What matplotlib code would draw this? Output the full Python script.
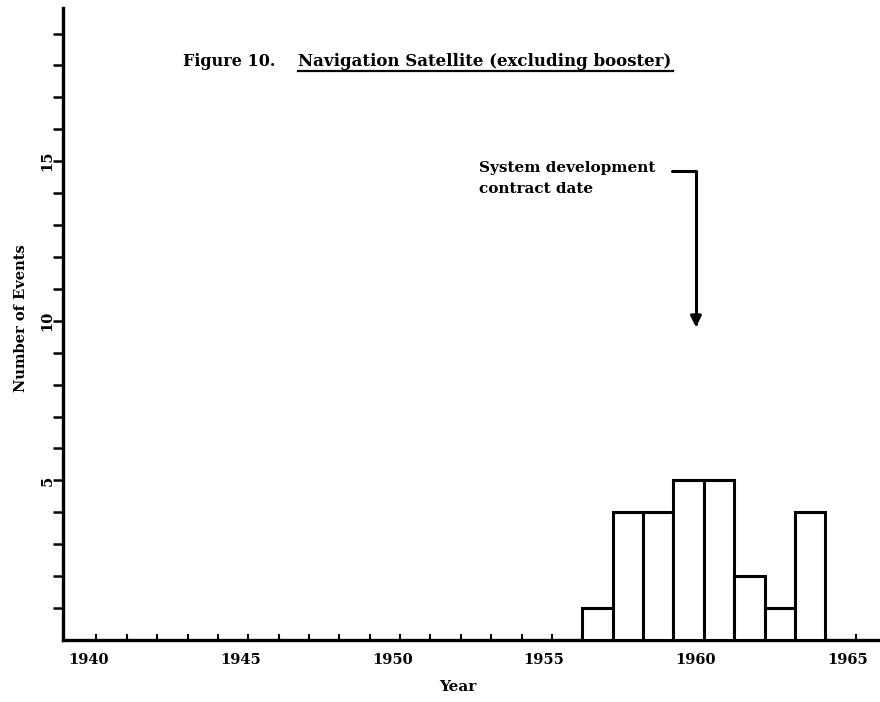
import matplotlib
matplotlib.use("Agg")
import matplotlib.pyplot as plt
import matplotlib.transforms as mtransforms
from matplotlib.lines import Line2D
import numpy as np

plt.rcParams.update({"font.family": "DejaVu Serif", "font.weight": "bold"})

# histogram of events per year (bar left edge = year)
YEARS = [1956, 1957, 1958, 1959, 1960, 1961, 1962, 1963]
EVENTS = [1, 4, 4, 5, 5, 2, 1, 4]
XTICK_YEARS = [1940, 1945, 1950, 1955, 1960, 1965]
YTICKS = [5, 10, 15]

fig = plt.figure(figsize=(8.8, 7.02), dpi=100)
ax = fig.add_axes([63 / 880, 1 - 640 / 702, 1 - 63 / 880, (640 - 8) / 702])

ax.bar(YEARS, EVENTS, width=1.0, align="edge", facecolor="white",
       edgecolor="black", linewidth=2.2, zorder=3)

ax.set_xlim(1938.9, 1965.8)
ax.set_ylim(0, 19.8)

ax.set_xticks(XTICK_YEARS)
ax.set_xticks(np.arange(1940, 1966), minor=True)
ax.set_yticks(YTICKS)
ax.set_yticks(np.arange(1, 20), minor=True)
ax.tick_params(axis="x", which="both", direction="in", length=4, width=1.5, labelsize=10.5, pad=9)
ax.tick_params(axis="y", which="both", direction="out", length=7, width=1.8, labelsize=10.5, pad=-1)
for lab in ax.get_yticklabels():
    lab.set_rotation(90)
    lab.set_va("center")
shift = mtransforms.ScaledTranslation(-8 / 100, 0, fig.dpi_scale_trans)
for lab in ax.get_xticklabels():
    lab.set_transform(lab.get_transform() + shift)

for s in ("top", "right"):
    ax.spines[s].set_visible(False)
for s in ("left", "bottom"):
    ax.spines[s].set_linewidth(2.4)

ax.set_xlabel("Year", fontsize=11, fontweight="bold")
ax.xaxis.set_label_coords((458 - 63) / 817, -(680 - 640) / 632)
ax.set_ylabel("Number of Events", fontsize=10.5, fontweight="bold")
ax.yaxis.set_label_coords(-(63 - 28) / 817, (640 - 318) / 632)

# annotation: contract date arrow
ax.annotate("", xy=(1959.74, 9.8), xytext=(1958.95, 14.7),
            arrowprops=dict(arrowstyle="-|>", color="black", lw=2.2,
                            mutation_scale=16, shrinkA=0, shrinkB=0,
                            connectionstyle="angle,angleA=0,angleB=90,rad=0"))
ax.text(1958.4, 15.0, "System development\ncontract date", ha="right", va="top",
        multialignment="left", fontsize=11, fontweight="bold", linespacing=1.6)

# title with underline
fig.text(183 / 880, 1 - 62 / 702, "Figure 10.", ha="left", va="center",
         fontsize=11.5, fontweight="bold")
fig.text(298 / 880, 1 - 62 / 702, "Navigation Satellite (excluding booster)",
         ha="left", va="center", fontsize=12, fontweight="bold")
fig.add_artist(Line2D([298 / 880, 673 / 880], [1 - 71 / 702, 1 - 71 / 702],
                      transform=fig.transFigure, color="black", lw=1.6))

fig.savefig("out.png", dpi=100, facecolor="white")
